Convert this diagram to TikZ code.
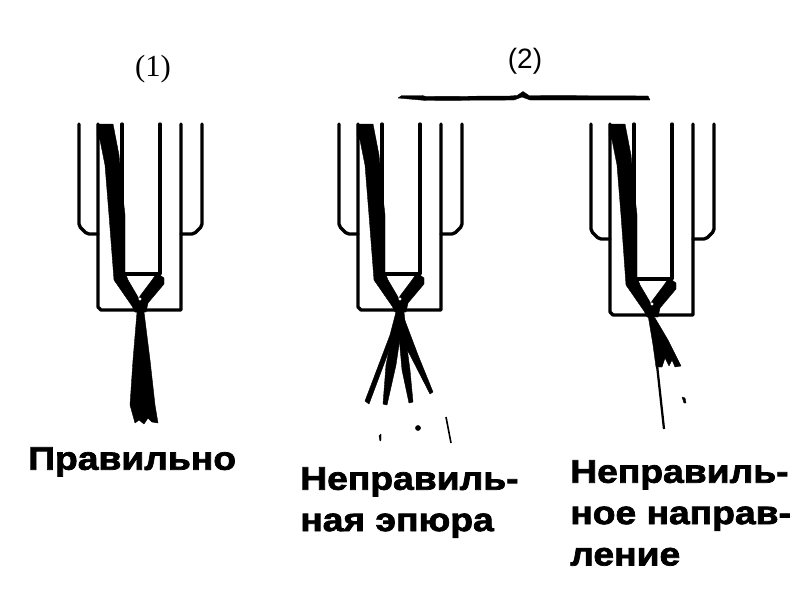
\documentclass[tikz,border=0pt]{standalone}
\usepackage{fontspec}
\setmainfont{Liberation Serif}
\newfontfamily\labelfont[FakeStretch=1.14,BoldFeatures={FakeBold=2.2}]{Liberation Sans}
\newfontfamily\headfont{Liberation Sans}
\usepackage{tikz}

\tikzset{
	wallline/.style={color=black, line width=2.5pt, line cap=round, line join=round},
	thinline/.style={color=black, line width=1.2pt},
	inkfill/.style={fill=black, draw=black, line width=0.3pt, line join=round},
	captiontext/.style={anchor=north west, inner sep=0pt, align=left, font=\labelfont\bfseries\fontsize{24.5}{31}\selectfont},
}

\begin{document}
\begin{tikzpicture}[x=0.75pt,y=0.75pt,yscale=-1,xscale=1]
	\useasboundingbox (0,0) rectangle (800,603);
	
	%Shape: the three nozzles, third one a bit longer
	\foreach \dx/\dy in {0/0,260/0,512/5}{
		\begin{scope}[shift={(\dx,0)}]
			%outer sleeve
			\draw [wallline, rounded corners=1.5] (79,124) -- (79,{226+\dy}) -- (87,{234+\dy}) -- (98,{234+\dy}) ;
			\draw [wallline, rounded corners=1.5] (202,124) -- (202,{226+\dy}) -- (194,{234+\dy}) -- (181,{234+\dy}) ;
			%body
			\draw [wallline] (98,124) -- (98,{307+\dy}) -- (101,{310+\dy}) -- (181,{310+\dy}) -- (181,124) ;
			%channel
			\draw [wallline] (122,124) -- (122,{274+\dy}) -- (160,{274+\dy}) -- (160,124) ;
			%needle and left limb
			\fill [inkfill] (97,124) -- (113,124) -- (119,155) -- (122,188) -- (125,215) -- (125,{272+\dy}) -- (128,{280+\dy}) -- (138,{297+\dy}) -- (143,{312+\dy}) -- (135,{312+\dy}) -- (132,{306+\dy}) -- (114,{280+\dy}) -- (109,215) -- (105,165) -- (102,150) -- (100,140) -- (97,136) -- cycle ;
			%right limb
			\fill [inkfill] (157,{273+\dy}) -- (164,{278+\dy}) -- (164,{284+\dy}) -- (148,{303+\dy}) -- (146,{312+\dy}) -- (135,{312+\dy}) -- (140,{296+\dy}) -- (146,{288+\dy}) -- (152,{280+\dy}) -- cycle ;
			\fill [white] (140,{299+\dy}) circle [radius=1.6] ;
		\end{scope}
	}
	
	%Shape: correct spray
	\fill [inkfill] (137,312) -- (144,312) -- (150,360) -- (155,405) -- (158,423) -- (152,422) -- (148,418) -- (144,424) -- (139,420) -- (135,423) -- (130,405) -- (133,360) -- cycle ;
	
	%Shape: bad spray pattern, four strands
	\fill [inkfill] (396,312) -- (404,312) -- (406,332) -- (393,340) -- (369,404) -- (365,401) -- (390,335) -- cycle ;
	\fill [inkfill] (394,325) -- (402,325) -- (396,365) -- (387,405) -- (383,404) -- (386,365) -- cycle ;
	\fill [inkfill] (398,325) -- (404,325) -- (410,370) -- (413,402) -- (409,403) -- (402,370) -- cycle ;
	\fill [inkfill] (398,312) -- (404,318) -- (418,355) -- (433,392) -- (430,394) -- (410,355) -- (398,335) -- cycle ;
	%stray drops
	\fill [inkfill] (381,434) -- (381,440) -- (380,441) -- (379,436) -- cycle ;
	\fill [inkfill] (418,428) circle [radius=2.6] ;
	\draw [thinline] (446,417) -- (451,443) ;
	
	%Shape: bad direction spray
	\fill [inkfill] (648,315) -- (655,318) -- (668,340) -- (681,366) -- (675,367) -- (672,360) -- (669,366) -- (665,358) -- (662,367) -- (656,367) -- (653,345) -- cycle ;
	\draw [thinline, line width=1.7pt] (657,365) -- (664,429) ;
	\fill [inkfill] (682,397) -- (685,398) -- (686,403) -- (684,403) -- cycle ;
	
	%Brace over the two wrong ones
	\fill [inkfill] (398,98) -- (402,95.5) -- (422,95.5) -- (426,96.5) -- (510,96) -- (517,95.5) -- (523,91.5) -- (529,95.5) -- (648,96) -- (650,100) -- (530,100) -- (522,97) -- (514,100) -- (426,100.5) -- cycle ;
	
	% Text Node
	\node (numOne) at (153,69) [inner sep=0pt, font=\fontsize{23}{25}\selectfont] {(1)};
	% Text Node
	\node (numTwo) at (525,61) [inner sep=0pt, font=\headfont\fontsize{21}{23}\selectfont] {(2)};
	% Text Node
	\node (correct) at (28,447) [captiontext] {Правильно};
	% Text Node
	\node (wrongPattern) at (300,467) [captiontext] {Неправиль-\\ная эпюра};
	% Text Node
	\node (wrongDirection) at (570,460) [captiontext] {Неправиль-\\ное направ-\\ление};
\end{tikzpicture}
\end{document}
